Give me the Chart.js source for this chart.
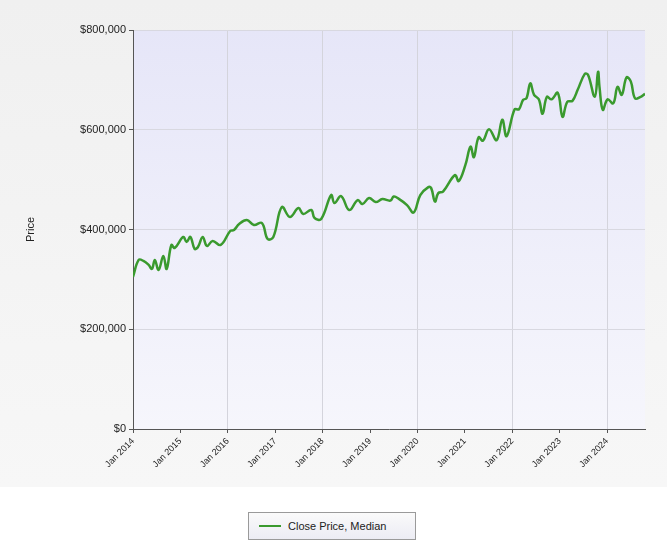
<!DOCTYPE html>
<html><head><meta charset="utf-8">
<script src="https://cdn.jsdelivr.net/npm/chart.js@4"></script>
<style>
html,body{margin:0;padding:0;background:#fff;width:667px;height:555px;overflow:hidden;font-family:"Liberation Sans",Arial,sans-serif}
#wrap{position:absolute;left:0;top:0;width:667px;height:487px;background:linear-gradient(#f0f0f0,#f7f7f7)}
#leg{position:absolute;left:248px;top:512px;width:168px;height:28px;border:1px solid #9a9a9a;background:linear-gradient(#fafafa,#ececf4);font-size:11px;color:#222;display:flex;align-items:center;box-sizing:border-box;padding-left:10px}
#leg span.l{display:inline-block;width:22px;height:2px;background:#3a9a2e;margin-right:7px}
</style></head><body>
<div id="wrap"><canvas id="c" width="667" height="487"></canvas></div>
<div id="leg"><span class="l"></span>Close Price, Median</div>
<script>
const dates=[2014.00,2014.12,2014.22,2014.33,2014.40,2014.46,2014.54,2014.64,2014.71,2014.81,2014.88,2015.06,2015.13,2015.21,2015.30,2015.37,2015.47,2015.56,2015.68,2015.85,2016.05,2016.13,2016.24,2016.40,2016.55,2016.72,2016.84,2016.96,2017.14,2017.31,2017.49,2017.59,2017.76,2017.83,2017.97,2018.18,2018.25,2018.39,2018.56,2018.74,2018.84,2018.98,2019.12,2019.26,2019.43,2019.50,2019.60,2019.78,2019.92,2020.06,2020.23,2020.29,2020.37,2020.44,2020.54,2020.79,2020.87,2021.01,2021.12,2021.19,2021.29,2021.38,2021.51,2021.67,2021.79,2021.88,2022.05,2022.14,2022.23,2022.30,2022.38,2022.46,2022.56,2022.64,2022.73,2022.83,2022.96,2023.06,2023.16,2023.27,2023.38,2023.53,2023.60,2023.74,2023.81,2023.84,2023.91,2024.01,2024.13,2024.22,2024.31,2024.41,2024.50,2024.59,2024.71,2024.80];
const prices=[305,339,337,329,321,339,319,347,321,369,363,385,375,385,361,365,385,367,377,369,397,399,411,419,409,413,381,385,445,425,443,431,439,423,421,469,453,467,439,459,451,463,455,461,458,466,462,449,434,469,485,483,456,473,476,509,497,529,566,545,585,578,601,579,620,587,641,641,660,663,693,670,661,632,666,661,674,626,656,658,680,712,710,666,716,686,640,661,653,686,670,705,697,663,666,672].map(v=>v*1000);
const seriesName="Close Price, Median";
const yTicks=[0,200000,400000,600000,800000];

const bgPlugin={id:'bg',beforeDraw(ch){const a=ch.chartArea,x=ch.ctx;const g=x.createLinearGradient(0,a.top,0,a.bottom);g.addColorStop(0,'#e6e6f8');g.addColorStop(1,'#f6f6fc');x.save();x.fillStyle=g;x.fillRect(a.left,a.top,a.right-a.left,a.bottom-a.top);x.restore();}};
new Chart(document.getElementById('c'),{
type:'line',
data:{datasets:[{label:seriesName,data:dates.map((d,i)=>({x:d,y:prices[i]})),borderColor:'#3a9a2e',borderWidth:2.5,pointRadius:0,tension:0.4,fill:false}]},
options:{responsive:false,animation:false,
layout:{padding:{left:20,right:22,top:30,bottom:2}},
plugins:{legend:{display:false},tooltip:{enabled:false}},
scales:{
x:{type:'linear',min:2014,max:2024.8,
afterBuildTicks(s){s.ticks=[];for(let y=2014;y<=2024;y++)s.ticks.push({value:y});},
afterFit(s){s.height=56;},
ticks:{maxRotation:45,minRotation:45,font:{size:9,family:'Liberation Sans'},color:'#222',callback:v=>'Jan '+v},
grid:{color:c=>(c.tick&&c.tick.value%2===0&&c.tick.value>2014)?'#d4d4dc':'rgba(0,0,0,0)',tickColor:'#555',tickLength:4},
border:{color:'#555',width:1}},
y:{min:0,max:800000,
afterBuildTicks(s){s.ticks=yTicks.map(v=>({value:v}));},
afterFit(s){s.width=113;},
title:{display:true,text:'Price',font:{size:11,family:'Liberation Sans'},color:'#222'},
ticks:{font:{size:11,family:'Liberation Sans'},color:'#222',padding:3,callback:v=>'$'+v.toLocaleString('en-US')},
grid:{color:'#d8d8e0',tickColor:'#555',tickLength:4},
border:{color:'#555',width:1}}}},
plugins:[bgPlugin]});
</script></body></html>
